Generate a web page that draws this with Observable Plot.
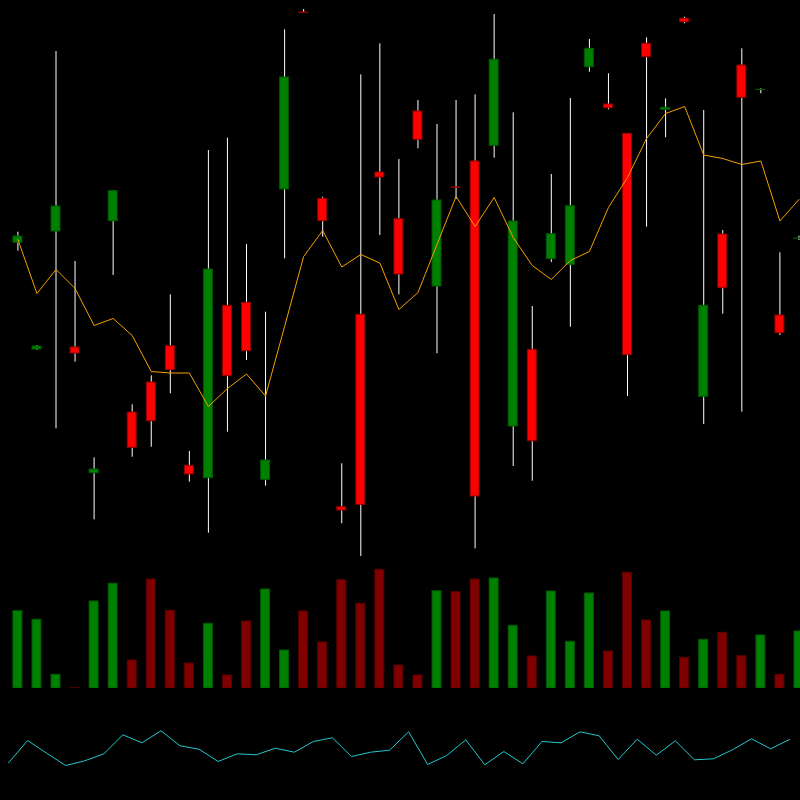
<!DOCTYPE html>
<html>
<head>
<meta charset="utf-8">
<script src="https://cdn.jsdelivr.net/npm/d3@7"></script>
<script src="https://cdn.jsdelivr.net/npm/@observablehq/plot@0.6"></script>
<style>
  html, body { margin: 0; padding: 0; background: #000; overflow: hidden; }
  #wrap { position: relative; width: 800px; height: 800px; background: #000; }
  #wrap > div { position: absolute; left: 0; }
  svg { background: transparent !important; }
</style>
</head>
<body>
<div id="wrap">
  <div id="price" style="top:0"></div>
  <div id="volume" style="top:560px"></div>
  <div id="osc" style="top:688px"></div>
</div>
<script>
// Candle data (arbitrary price units)
const opens  = [317.7,211,329,213,87.3,339.3,148,178,214.3,94.7,82.3,254.7,257.7,80.7,371,548,361.7,53.3,245.7,388,341.3,449,274,373,399,414.7,134,210.7,301.3,295.7,493.3,456,426.7,516.7,450.7,541.7,163.7,326,495,470.5,245,321.5];
const closes = [324,214,354,207,91,369.3,112.7,139.3,190.3,86,291,184.3,209.3,100,483,547.5,339.3,50,55.7,383,286,420.7,360,372.5,64,500.7,339,119.3,326.3,354.3,511.7,452.3,205.3,503.3,452.7,538.3,254.7,272.3,462.7,470.7,227.3,322];
const highs  = [328.3,215,509,299,102.7,370,155.7,184.7,265.7,109,410,422.3,316,248.3,530.7,551,363.3,96.7,485.7,516.7,401,460,436,460,465.7,546,447.7,254,386,462,521,486.7,427,522.7,461.7,543.3,450,330,511.7,471.7,307.7,324.3];
const lows   = [309.3,210,131.7,198.3,40.7,285,103.3,113.3,166.7,78.3,27.3,128.3,200,74.3,301.7,547.3,323.3,36.7,4,325,265.7,411.7,206.7,361,11.7,402.3,94,79.3,298,233.3,488.3,450.7,164,333.3,422.7,536.7,136,246.3,148.3,466.7,225,320];
// Moving average (orange)
const maValues = [321,267,291,272,235,242,225,189,187.5,187.5,154,172,186.5,164.5,234,304,330,293.5,306,297.5,251,268,316,364,334,363,323,295,281,300,309,353,383,422,447,454,405.5,402,396,399.5,339.5,361];
// Volume
const volumes = [77.3,68.7,13.7,0.3,87,104.7,28,109,77.7,25,64.7,13,67,99,38,77,46,108.3,84.7,118.7,23,13,97.3,96.3,109,110,62.7,32,97,46.7,95,37,115.7,68,77,30.7,48.7,55.7,32.3,53,13.7,57];
// Oscillator (cyan)
const oscValues = [37.7,60,47.3,35,39.7,46.7,65.7,57.7,69.7,54.7,51.3,39,46.7,45.7,52.3,48.3,59,62.7,44,48.3,50.3,68.7,36,45,60.7,35.7,49,36.7,59,57.7,68.7,64.7,41,61.3,45.3,59.7,40.7,41.7,50.7,61.7,51.7,61];

const candles = opens.map((o, i) => ({i, open: o, close: closes[i], high: highs[i], low: lows[i], up: closes[i] >= o}));
const ma = maValues.map((v, i) => ({i, v}));
const vol = volumes.map((v, i) => ({i, v, up: candles[i].up}));
const osc = oscValues.map((v, i) => ({i, v}));

const xDomain = [-0.9134, 41.081];
const half = 0.235;
const base = {width: 800, marginTop: 0, marginBottom: 0, marginLeft: 0, marginRight: 0,
  style: {background: "transparent"}};

const price = Plot.plot({
  ...base, height: 560,
  x: {type: "linear", domain: xDomain, axis: null},
  y: {domain: [0, 560], axis: null},
  marks: [
    Plot.ruleX(candles, {x: "i", y1: "low", y2: "high", stroke: "#ffffff", strokeWidth: 1}),
    Plot.rect(candles, {x1: d => d.i - half, x2: d => d.i + half, y1: "open", y2: "close",
      fill: d => d.up ? "#008000" : "#ff0000",
      stroke: d => d.up ? "#005800" : "#900000", strokeWidth: 1}),
    Plot.line(ma, {x: "i", y: "v", stroke: "#f5a000", strokeWidth: 1})
  ]
});
document.getElementById("price").appendChild(price);

const volume = Plot.plot({
  ...base, height: 128,
  x: {type: "linear", domain: xDomain, axis: null},
  y: {domain: [0, 128], axis: null},
  marks: [
    Plot.rect(vol, {x1: d => d.i - half, x2: d => d.i + half, y1: 0, y2: "v",
      fill: d => d.up ? "#008000" : "#800000",
      stroke: d => d.up ? "#005a00" : "#5a0000", strokeWidth: 1})
  ]
});
document.getElementById("volume").appendChild(volume);

const oscPlot = Plot.plot({
  ...base, height: 112,
  x: {type: "linear", domain: [xDomain[0] + 0.49, xDomain[1] + 0.49], axis: null},
  y: {domain: [0, 112], axis: null},
  marks: [
    Plot.line(osc, {x: "i", y: "v", stroke: "#22c8cc", strokeWidth: 1})
  ]
});
document.getElementById("osc").appendChild(oscPlot);
</script>
</body>
</html>
